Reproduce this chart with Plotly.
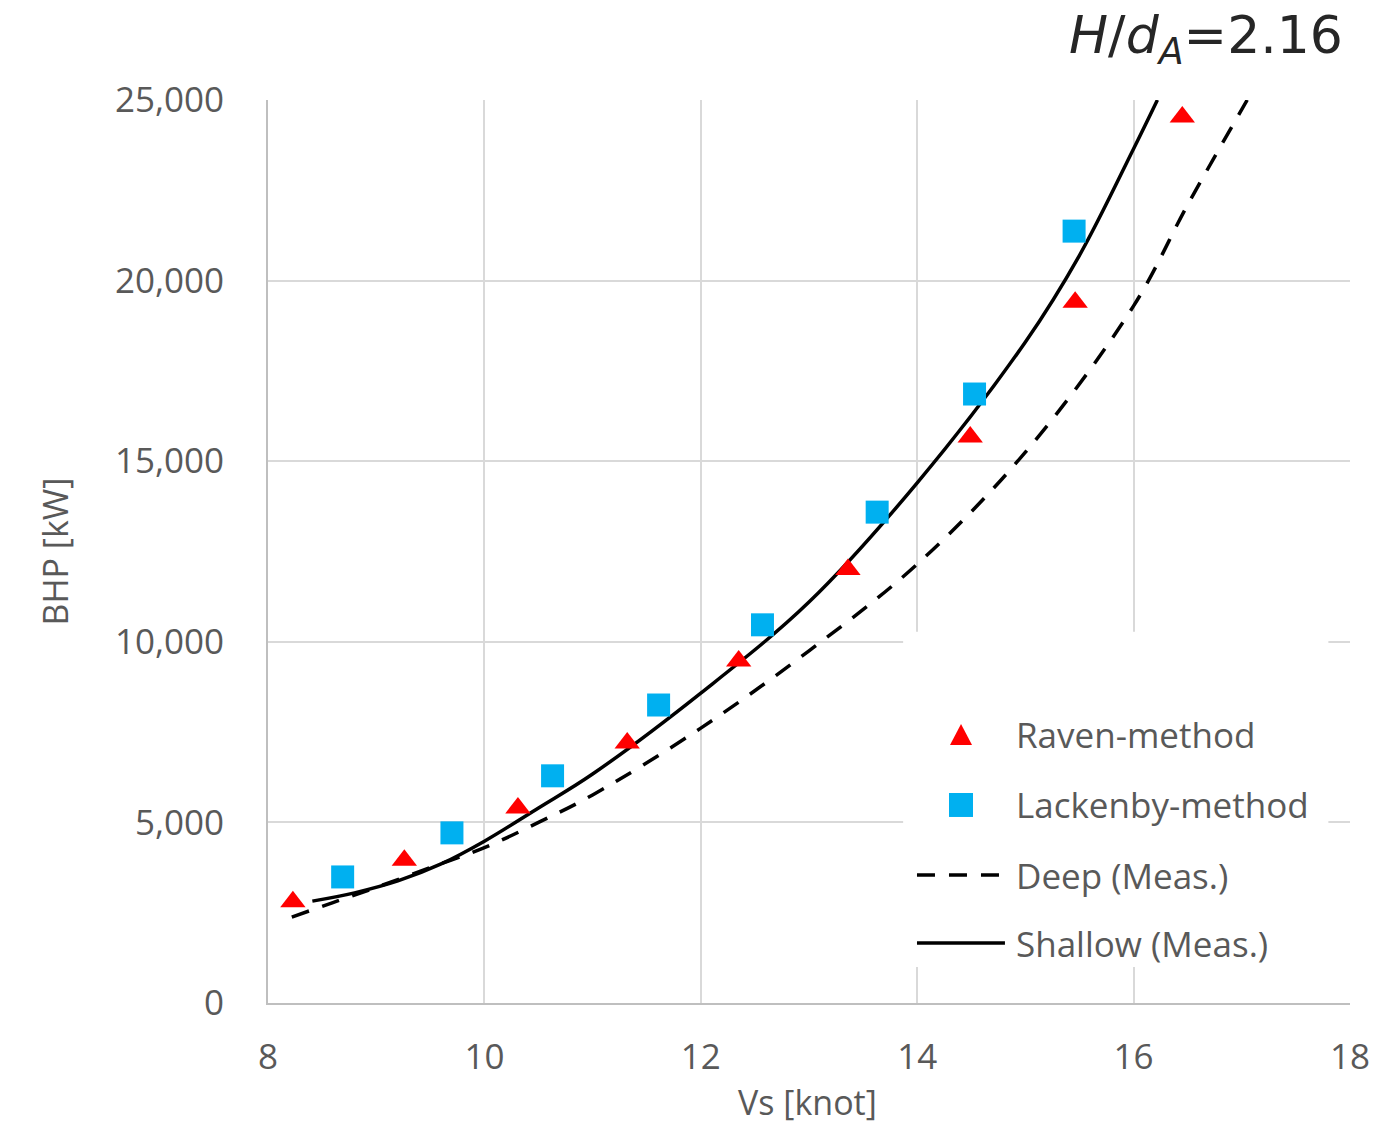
import plotly.graph_objects as go

# ---- data ----
raven_vs = [8.23, 9.26, 10.31, 11.32, 12.35, 13.36, 14.49, 15.46, 16.45]
raven_bhp = [2800, 3950, 5400, 7200, 9470, 12000, 15670, 19400, 24530]

lackenby_vs = [8.69, 9.70, 10.63, 11.61, 12.57, 13.63, 14.53, 15.45]
lackenby_bhp = [3490, 4710, 6290, 8250, 10470, 13590, 16860, 21370]

deep_vs = [8.22, 8.6, 9.0, 9.5, 10.0, 10.5, 11.0, 12.0, 13.0, 14.0, 15.0, 16.0, 16.5, 17.05]
deep_bhp = [2380, 2780, 3200, 3750, 4300, 5000, 5760, 7610, 9750, 12150, 15250, 19300, 22100, 25000]

shallow_vs = [8.41, 8.8, 9.2, 9.6, 10.0, 10.5, 11.0, 12.0, 13.0, 14.0, 15.0, 15.5, 16.0, 16.22]
shallow_bhp = [2820, 3050, 3380, 3850, 4480, 5400, 6340, 8580, 11100, 14400, 18300, 20700, 23650, 25000]

x_ticks = [8, 10, 12, 14, 16, 18]
y_ticks = [0, 5000, 10000, 15000, 20000, 25000]

legend_names = ["Raven-method", "Lackenby-method", "Deep (Meas.)", "Shallow (Meas.)"]

RED = "#FF0000"
CYAN = "#00B0F0"
GRID = "#D9D9D9"
TXT = "#595959"
FONT = "Open Sans"
DASH = "18px,14px"

fig = go.Figure()
fig.add_trace(go.Scatter(x=deep_vs, y=deep_bhp, mode="lines", name=legend_names[2],
                         line=dict(color="black", width=3.5, dash=DASH, shape="spline", smoothing=1.0),
                         showlegend=False))
fig.add_trace(go.Scatter(x=shallow_vs, y=shallow_bhp, mode="lines", name=legend_names[3],
                         line=dict(color="black", width=3.5, shape="spline", smoothing=1.0),
                         showlegend=False))
fig.add_trace(go.Scatter(x=raven_vs, y=raven_bhp, mode="markers", name=legend_names[0],
                         marker=dict(symbol="triangle-up", size=22, color=RED, line=dict(width=0)),
                         showlegend=False))
fig.add_trace(go.Scatter(x=lackenby_vs, y=lackenby_bhp, mode="markers", name=legend_names[1],
                         marker=dict(symbol="square", size=23, color=CYAN, line=dict(width=0)),
                         showlegend=False))

# ---- manual legend (paper coords) ----
shapes = []
shapes.append(dict(type="rect", xref="paper", yref="paper", x0=0.587, x1=0.980, y0=0.040, y1=0.411,
                   fillcolor="white", line=dict(width=0), layer="above"))
shapes.append(dict(type="path", xref="paper", yref="paper", xsizemode="pixel", ysizemode="pixel",
                   xanchor=0.6405, yanchor=0.2968, path="M -11,-10 L 11,-10 L 0,11 Z",
                   fillcolor=RED, line=dict(width=0), layer="above"))
shapes.append(dict(type="rect", xref="paper", yref="paper", xsizemode="pixel", ysizemode="pixel",
                   xanchor=0.6405, yanchor=0.2193, x0=-12, x1=12, y0=-12, y1=12,
                   fillcolor=CYAN, line=dict(width=0), layer="above"))
shapes.append(dict(type="line", xref="paper", yref="paper", x0=0.5998, x1=0.6811, y0=0.1417, y1=0.1417,
                   line=dict(color="black", width=3.5, dash=DASH), layer="above"))
shapes.append(dict(type="line", xref="paper", yref="paper", x0=0.5998, x1=0.6811, y0=0.0664, y1=0.0664,
                   line=dict(color="black", width=3.5), layer="above"))

annotations = []
for name, yp in zip(legend_names, [0.2968, 0.2193, 0.1417, 0.0664]):
    annotations.append(dict(text=name, xref="paper", yref="paper", x=0.6895, y=yp,
                            xanchor="left", yanchor="middle", showarrow=False,
                            font=dict(family=FONT, size=35, color=TXT)))

# axis titles
annotations.append(dict(text="Vs [knot]", xref="paper", yref="paper", x=0.499, y=-0.1362,
                        xanchor="center", yanchor="bottom", showarrow=False, borderpad=0,
                        font=dict(family=FONT, size=34, color=TXT)))
annotations.append(dict(text="BHP [kW]", xref="paper", yref="paper", x=-0.1969, y=0.5,
                        xanchor="center", yanchor="middle", showarrow=False, textangle=-90,
                        font=dict(family=FONT, size=34, color=TXT)))
# header
annotations.append(dict(text="<i>H</i>/<i>d</i><sub><i>A</i></sub>=2.16", xref="paper", yref="paper",
                        x=0.9954, y=1.068, xanchor="right", yanchor="middle", showarrow=False,
                        font=dict(family="DejaVu Sans", size=52, color="#262626")))

fig.update_layout(
    width=1392, height=1128,
    margin=dict(l=268, r=42, t=100, b=125, autoexpand=False),
    paper_bgcolor="white", plot_bgcolor="white",
    showlegend=False,
    shapes=shapes, annotations=annotations,
    xaxis=dict(range=[8, 18], tickvals=x_ticks, ticktext=[str(v) for v in x_ticks],
               showgrid=True, gridcolor=GRID, gridwidth=2, zeroline=False,
               showline=True, linecolor="#BFBFBF", linewidth=2, ticks="",
               ticklabelstandoff=22,
               tickfont=dict(family=FONT, size=35, color=TXT)),
    yaxis=dict(range=[0, 25000], tickvals=y_ticks, tickformat=",",
               showgrid=True, gridcolor=GRID, gridwidth=2, zeroline=False,
               showline=True, linecolor="#BFBFBF", linewidth=2, ticks="",
               ticklabelstandoff=35,
               tickfont=dict(family=FONT, size=35, color=TXT)),
)

fig.write_html("out.html")
